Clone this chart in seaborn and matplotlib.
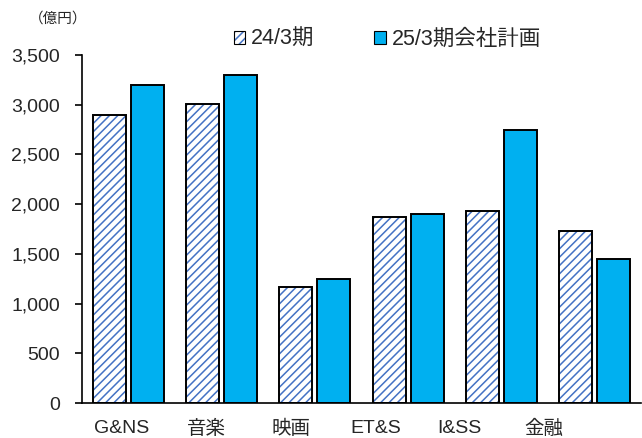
import matplotlib
matplotlib.use("Agg")
import matplotlib.pyplot as plt
import matplotlib.patches as mpatches
import matplotlib.colors as mcolors
from matplotlib.ticker import FuncFormatter
import seaborn as sns
import pandas as pd
import numpy as np

# data (億円)
segments = ["G&NS", "音楽", "映画", "ET&S", "I&SS", "金融"]
fy24 = [2900, 3010, 1170, 1870, 1930, 1730]
fy25_plan = [3200, 3300, 1250, 1900, 2750, 1450]
series_names = ["24/3期", "25/3期会社計画"]

df = pd.DataFrame({
    "segment": segments * 2,
    "value": fy24 + fy25_plan,
    "series": [series_names[0]] * len(segments) + [series_names[1]] * len(segments),
})

sns.set_style("white")
plt.rcParams["font.family"] = ["Liberation Sans", "Noto Sans CJK JP"]
plt.rcParams["hatch.linewidth"] = 1.1

HATCH_BLUE = "#4472C4"
CYAN = "#00B0F0"
FS = 14

fig = plt.figure(figsize=(6.42, 4.38), dpi=100)
ax = fig.add_axes([0.1277, 0.0799, 0.8708, 0.7945])

sns.barplot(
    data=df, x="segment", y="value", hue="series",
    palette={series_names[0]: "white", series_names[1]: CYAN},
    saturation=1, edgecolor="black", linewidth=1.4, width=0.815, gap=0.13,
    legend=False, ax=ax,
)

# hatch the 24/3 bars in blue, keep a black outline
for p in ax.containers[0]:
    p.set_hatch("////")
    p._hatch_color = mcolors.to_rgba(HATCH_BLUE)

ax.set_ylim(0, 3500)
ax.set_yticks(np.arange(0, 3501, 500))
ax.yaxis.set_major_formatter(FuncFormatter(lambda v, _: f"{int(v):,}"))
ax.set_xlim(-0.5, len(segments) - 0.5)

# Excel places the category labels slightly drifting left
ax.set_xticks(np.arange(len(segments)) * 0.906 - 0.07)
ax.set_xticklabels(segments)

ax.set_xlabel("")
ax.set_ylabel("")
for s in ["top", "right"]:
    ax.spines[s].set_visible(False)
for s in ["left", "bottom"]:
    ax.spines[s].set_color("black")
    ax.spines[s].set_linewidth(1.2)

ax.tick_params(axis="y", length=5, width=1.2, color="black", left=True,
               labelsize=FS, pad=11)
ax.tick_params(axis="x", length=0, labelsize=FS, pad=12)
ax.grid(False)

# legend
h1 = mpatches.Patch(facecolor="white", edgecolor="black", linewidth=0.8, hatch="////")
h1._hatch_color = mcolors.to_rgba(HATCH_BLUE)
h2 = mpatches.Patch(facecolor=CYAN, edgecolor="black", linewidth=0.8)
ax.legend([h1, h2], series_names, loc="center", bbox_to_anchor=(0.546, 1.045),
          ncol=2, frameon=False, fontsize=15.5, handlelength=0.55,
          handleheight=0.55, handletextpad=0.25, columnspacing=2.8)

fig.text(0.045, 0.957, "（億円）", fontsize=10.5, ha="left", va="center")

fig.savefig("out.png", dpi=100)
